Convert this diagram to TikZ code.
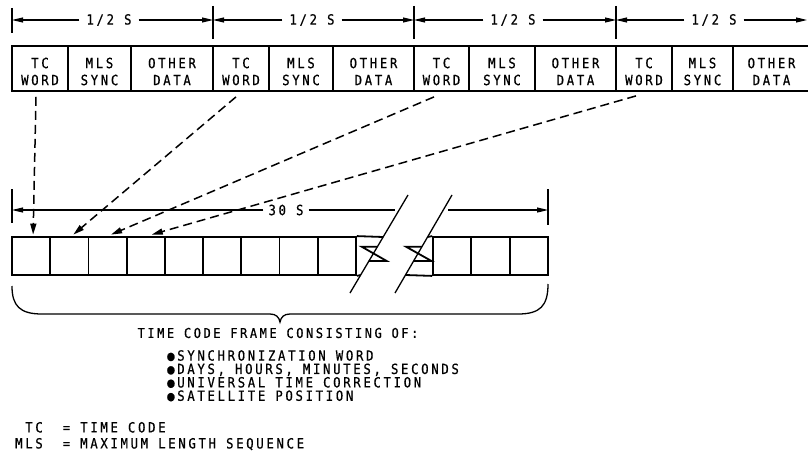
\documentclass[tikz,border=0pt]{standalone}
\usepackage{fontspec}
\newfontfamily\lett[LetterSpace=19,FakeBold=0.6,FakeStretch=0.88]{DejaVu Sans Mono}
\usetikzlibrary{arrows.meta,calc}
\begin{document}
\begin{tikzpicture}[x=1pt,y=-1pt,
  lt/.style={font=\lett\fontsize{14}{17}\selectfont},
  celltext/.style={lt, align=center, inner sep=0pt, yshift=-3pt},
  topcell/.style={draw, line width=1.8pt, minimum height=45pt, inner sep=0pt},
  botcell/.style={draw, line width=1.8pt, minimum height=38pt, minimum width=38.2pt, inner sep=0pt},
  boxline/.style={line width=1.8pt},
  slashline/.style={line width=1.3pt},
  dim/.style={line width=1.2pt},
  dimarr/.style={dim, -{Triangle[length=11pt,width=5pt]}},
  ticks/.style={line width=1.2pt},
  dlabel/.style={lt, inner ysep=0pt, inner xsep=7pt},
  link/.style={line width=1.5pt, dash pattern=on 9pt off 5pt, -{Triangle[length=11pt,width=6pt]}}]
\useasboundingbox (0,0) rectangle (808,452);
\clip (0,0) rectangle (808,452);
\fill[white] (0,0) rectangle (808,452);

% top row of words
\node[topcell, minimum width=56pt, label={[celltext]center:{TC\\WORD}}] (t1) at (40,68.5) {};
\node[topcell, minimum width=63pt, label={[celltext]center:{MLS\\SYNC}}] (t2) at (99.5,68.5) {};
\node[topcell, minimum width=82pt, label={[celltext]center:{OTHER\\DATA}}] (t3) at (172,68.5) {};
\node[topcell, minimum width=56pt, label={[celltext]center:{TC\\WORD}}] (t4) at (241,68.5) {};
\node[topcell, minimum width=64pt, label={[celltext]center:{MLS\\SYNC}}] (t5) at (301,68.5) {};
\node[topcell, minimum width=81pt, label={[celltext]center:{OTHER\\DATA}}] (t6) at (373.5,68.5) {};
\node[topcell, minimum width=55pt, label={[celltext]center:{TC\\WORD}}] (t7) at (441.5,68.5) {};
\node[topcell, minimum width=66pt, label={[celltext]center:{MLS\\SYNC}}] (t8) at (502,68.5) {};
\node[topcell, minimum width=81pt, label={[celltext]center:{OTHER\\DATA}}] (t9) at (575.5,68.5) {};
\node[topcell, minimum width=56pt, label={[celltext]center:{TC\\WORD}}] (t10) at (644,68.5) {};
\node[topcell, minimum width=61pt, label={[celltext]center:{MLS\\SYNC}}] (t11) at (702.5,68.5) {};
\node[topcell, minimum width=77pt, label={[celltext]center:{OTHER\\DATA}}] (t12) at (771.5,68.5) {};

% top dimension lines
\draw[ticks] (12,8) -- (12,33);
\draw[ticks] (213,6) -- (213,39);
\draw[ticks] (414,6) -- (414,39);
\draw[ticks] (616,6) -- (616,39);
\coordinate (p0) at (12,20);
\coordinate (p1) at (213,20);
\coordinate (p2) at (414,20);
\coordinate (p3) at (616,20);
\coordinate (p4) at (807,20);
\node[dlabel] (h1) at (109,20) {1/2 S};
\node[dlabel] (h2) at (312,20) {1/2 S};
\node[dlabel] (h3) at (513,20) {1/2 S};
\node[dlabel] (h4) at (714,20) {1/2 S};
\draw[dimarr] (h1) -- (p0);
\draw[dimarr] (h1) -- (p1);
\draw[dimarr] (h2) -- (p1);
\draw[dimarr] (h2) -- (p2);
\draw[dimarr] (h3) -- (p2);
\draw[dimarr] (h3) -- (p3);
\draw[dimarr] (h4) -- (p3);
\draw[dimarr] (h4) -- (p4);

% lower frame cells
\foreach \i in {1,...,9} {
  \node[botcell] (b\i) at ({12+38.22*(\i-0.5)},256) {};
}
\node[botcell] (b10) at (452.17,256) {};
\node[botcell] (b11) at (490.5,256) {};
\node[botcell] (b12) at (528.83,256) {};

% break
\draw[boxline] (b9.north east) -- (383.1,237);
\draw[boxline] (b9.south east) -- (360.7,275);
\draw[boxline, line join=miter] (377.4,246.7) -- (361.7,246.7) -- (386.7,261) -- (368.9,261);
\draw[boxline] (427.6,237) -- (b10.north west);
\draw[boxline] (405.5,275) -- (b10.south west);
\draw[boxline, line join=miter] (421.9,246.7) -- (406,246.7) -- (431.5,261) -- (413.6,261);
\coordinate (s1a) at (350,293);
\coordinate (s1b) at (408,195);
\coordinate (s2a) at (395,293);
\coordinate (s2b) at (452,195);
\draw[slashline] (s1a) -- (s1b);
\draw[slashline] (s2a) -- (s2b);

% 30 s dimension
\draw[ticks] (12,189) -- (12,223);
\draw[ticks] (548,189) -- (548,225);
\coordinate (q0) at (12,210);
\coordinate (q1) at (395,210);
\coordinate (q2) at (448,210);
\coordinate (q3) at (548,210);
\node[dlabel, inner xsep=5pt] (L30) at (286,210) {30 S};
\draw[dimarr] (L30) -- (q0);
\draw[dim] (L30) -- (q1);
\draw[dimarr] (q2) -- (q3);

% dashed links
\draw[link] ([xshift=-4pt,yshift=-5pt]t1.south) -- ([xshift=2pt,yshift=1.5pt]b1.north);
\draw[link] ([xshift=-5pt,yshift=-5pt]t4.south) -- ([xshift=4pt,yshift=1.5pt]b2.north);
\draw[link] ([xshift=-7.5pt,yshift=-5pt]t7.south) -- ([xshift=3.5pt,yshift=1.5pt]b3.north);
\draw[link] ([xshift=-8pt,yshift=-4pt]t10.south) -- ([xshift=6pt,yshift=1.5pt]b4.north);

% brace
\draw[line width=1.3pt] (12,286) .. controls (12,306) and (20,314) .. (42,314)
  -- (270,314) .. controls (276,314) and (279,317) .. (280,322)
  .. controls (281,317) and (284,314) .. (290,314)
  -- (518,314) .. controls (540,314) and (548,306) .. (548,284);

% texts
\node[lt, inner sep=0pt, font=\lett\fontsize{13.6}{17}\selectfont] (title) at (278,333) {TIME CODE FRAME CONSISTING OF:};
\node[lt, inner sep=0pt, anchor=north west, align=left, font=\lett\fontsize{14}{13.4}\selectfont] (list) at (167,350)
  {●SYNCHRONIZATION WORD\\●DAYS, HOURS, MINUTES, SECONDS\\●UNIVERSAL TIME CORRECTION\\●SATELLITE POSITION};
\node[lt, inner sep=0pt, anchor=north west, font=\lett\fontsize{14}{16}\selectfont] (legend) at (15,421)
  {\begin{tabular}{@{}r@{\hspace{20pt}}l@{}}TC & = TIME CODE\\ MLS & = MAXIMUM LENGTH SEQUENCE\end{tabular}};
\end{tikzpicture}
\end{document}
